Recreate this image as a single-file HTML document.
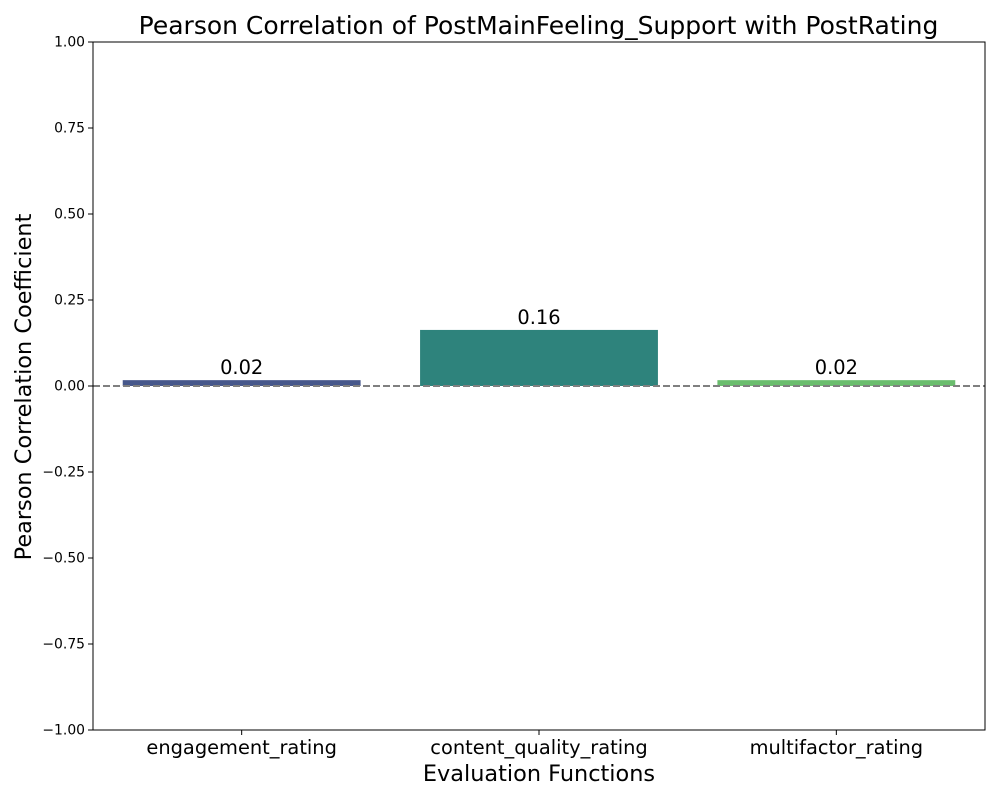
<!DOCTYPE html>
<html><head><meta charset="utf-8"><style>
body{margin:0;background:#fff;font-family:"DejaVu Sans","Liberation Sans",sans-serif}
</style></head><body>
<svg id="chart" width="1000" height="800" xmlns="http://www.w3.org/2000/svg"></svg>
<script>
const categories=["engagement_rating","content_quality_rating","multifactor_rating"];
const values=[0.017,0.163,0.017];
const labels=["0.02","0.16","0.02"];
const colors=["#46578a","#2e837c","#6abd6d"];
const yTicks=[-1,-0.75,-0.5,-0.25,0,0.25,0.5,0.75,1];
const yTickLabels=["\u22121.00","\u22120.75","\u22120.50","\u22120.25","0.00","0.25","0.50","0.75","1.00"];
const L=93,R=985,T=42,B=730;
const svg=document.getElementById('chart');
const NS="http://www.w3.org/2000/svg";
const y=v=>T+(1-v)/2*(B-T);
const bw=(R-L)/categories.length;
const x=i=>L+bw*(i+0.5);
function mk(tag,attrs,text){const e=document.createElementNS(NS,tag);for(const k in attrs)e.setAttribute(k,attrs[k]);if(text!==undefined)e.textContent=text;svg.appendChild(e);return e;}
let e;
categories.forEach((c,i)=>{
 const v=values[i];
 e=mk('rect',{x:x(i)-bw*0.4,y:Math.min(y(v),y(0)),width:bw*0.8,height:Math.abs(y(v)-y(0)),fill:colors[i]});
 
 
 e=mk('text',{x:x(i),y:y(Math.max(v,0))-6,'text-anchor':'middle','font-size':19.4,fill:'#000'},labels[i]);
 
 
 e=mk('line',{x1:x(i),x2:x(i),y1:B,y2:B+5,stroke:'#000'});
 
 
 e=mk('text',{x:x(i),y:B+24,'text-anchor':'middle','font-size':19.4},c);
 
 
});
e=mk('line',{x1:L,x2:R,y1:y(0),y2:y(0),stroke:'#808080','stroke-width':2,'stroke-dasharray':'7,3'});


yTicks.forEach((t,i)=>{
 e=mk('line',{x1:L-5,x2:L,y1:y(t),y2:y(t),stroke:'#000'});
 
 
 e=mk('text',{x:L-8,y:y(t)+4.5,'text-anchor':'end','font-size':13.9},yTickLabels[i]);
 
 
});
e=mk('rect',{x:L,y:T,width:R-L,height:B-T,fill:'none',stroke:'#000','stroke-width':1});


e=mk('text',{x:(L+R)/2-0.5,y:34,'text-anchor':'middle','font-size':25},'Pearson Correlation of PostMainFeeling_Support with PostRating');


e=mk('text',{x:(L+R)/2,y:781,'text-anchor':'middle','font-size':22.4},'Evaluation Functions');


e=mk('text',{x:0,y:0,'text-anchor':'middle','font-size':22.4,transform:'translate(31,387) rotate(-90)'},'Pearson Correlation Coefficient');


</script>
</body></html>
